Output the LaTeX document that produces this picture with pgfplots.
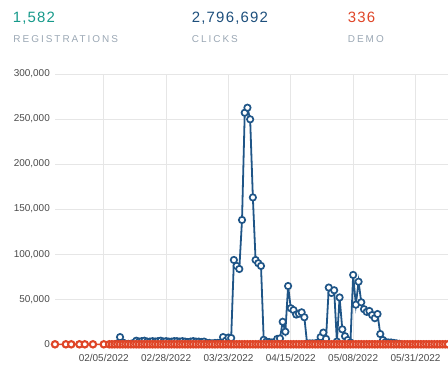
\documentclass[border=0pt]{standalone}
\usepackage{pgfplots}
\pgfplotsset{compat=1.18}
\usepackage{pgfplotstable}
\usepackage{fontspec}
\setmainfont{Liberation Sans}
\definecolor{teal1}{HTML}{16998A}
\definecolor{navy1}{HTML}{1D4F7C}
\definecolor{red1}{HTML}{DF4527}
\definecolor{lab}{HTML}{9AA7B4}
\definecolor{tickc}{HTML}{4A4A4A}
\definecolor{gridc}{HTML}{E6E6E6}
\definecolor{blueline}{HTML}{1F5587}

\pgfplotstableread{
d v
41 1000
42 8000
43 2000
44 500
45 500
46 500
47 1500
48 4000
49 3000
50 3500
51 4000
52 3000
53 3000
54 3500
55 3000
56 3500
57 4000
58 3000
59 3500
60 3000
61 3000
62 3500
63 3500
64 3000
65 3500
66 3000
67 2500
68 3000
69 3500
70 3000
71 3000
72 2500
73 3000
74 1500
75 1500
76 1000
77 1500
78 1500
79 2000
80 8000
81 4000
82 7500
83 7000
84 93600
85 87000
86 83600
87 138000
88 257000
89 262600
90 249700
91 163000
92 93600
93 90000
94 87000
95 5000
96 3000
97 2500
98 2000
99 2500
100 6000
101 6500
102 25000
103 14000
104 64700
105 40000
106 38000
107 33000
108 34000
109 35500
110 30000
111 1000
112 1000
113 1000
114 1000
115 2000
116 8000
117 13000
118 6000
119 63000
120 57000
121 60000
122 3000
123 52000
124 16600
125 9000
126 4800
127 2000
128 77000
129 44000
130 69500
131 46600
132 39000
133 36000
134 37000
135 32500
136 29000
137 33600
138 11400
139 4800
140 2500
141 2000
142 2000
143 1500
144 1000
145 500
}\clicks

\pgfplotstableread{
d v
18 2
22 1
24 3
27 2
29 1
32 2
36 3
38 2
39 3
40 2
41 4
42 3
43 2
44 1
45 2
46 3
47 4
48 2
49 3
50 2
51 1
52 2
53 3
54 4
55 3
56 2
57 2
58 3
59 1
60 2
61 4
62 3
63 2
64 2
65 3
66 2
67 1
68 3
69 2
70 4
71 3
72 2
73 3
74 2
75 1
76 2
77 3
78 2
79 4
80 3
81 2
82 2
83 3
84 5
85 4
86 3
87 6
88 8
89 7
90 6
91 5
92 4
93 3
94 3
95 2
96 1
97 2
98 2
99 3
100 2
101 3
102 4
103 2
104 5
105 4
106 3
107 3
108 2
109 3
110 2
111 1
112 2
113 1
114 2
115 2
116 3
117 3
118 2
119 5
120 4
121 4
122 2
123 4
124 3
125 2
126 2
127 1
128 5
129 3
130 4
131 3
132 3
133 2
134 3
135 2
136 2
137 3
138 2
139 1
140 2
141 1
142 2
143 1
144 1
145 2
146 1
147 2
148 1
149 1
150 2
151 1
152 2
153 1
154 1
155 2
156 1
157 1
158 2
159 1
160 1
161 2
162 1
163 1
}\demo

\begin{document}
\begin{tikzpicture}[x=1bp,y=1bp]
\useasboundingbox (0,0) rectangle (448,372);
\node[anchor=base west, inner sep=0, text=teal1, font=\fontsize{15}{15}\selectfont\addfontfeatures{LetterSpace=8}] at (12.7,349.3) {1,582};
\node[anchor=base west, inner sep=0, text=navy1, font=\fontsize{15}{15}\selectfont\addfontfeatures{LetterSpace=8}] at (191.7,349.3) {2,796,692};
\node[anchor=base west, inner sep=0, text=red1, font=\fontsize{15}{15}\selectfont\addfontfeatures{LetterSpace=8}] at (347.7,349.3) {336};
\node[anchor=base west, inner sep=0, text=lab, font=\fontsize{10}{10}\selectfont\addfontfeatures{LetterSpace=20}] at (13.3,329.5) {REGISTRATIONS};
\node[anchor=base west, inner sep=0, text=lab, font=\fontsize{10}{10}\selectfont\addfontfeatures{LetterSpace=20}] at (191.7,329.5) {CLICKS};
\node[anchor=base west, inner sep=0, text=lab, font=\fontsize{10}{10}\selectfont\addfontfeatures{LetterSpace=20}] at (347.7,329.5) {DEMO};
\begin{axis}[
  at={(55bp,27.7bp)}, anchor=south west,
  scale only axis, width=393bp, height=270.3bp,
  xmin=18, xmax=163, ymin=0, ymax=300000,
  clip=false,
  axis line style={draw=none},
  major tick length=0pt,
  grid=major,
  grid style={gridc, line width=0.9bp},
  xtick={36,59,82,105,128,151},
  xticklabels={02/05/2022,02/28/2022,03/23/2022,04/15/2022,05/08/2022,05/31/2022},
  ytick={0,50000,100000,150000,200000,250000,300000},
  yticklabels={0,{50,000},{100,000},{150,000},{200,000},{250,000},{300,000}},
  scaled y ticks=false,
  ticklabel style={font=\fontsize{10}{12}\selectfont, text=tickc},
  yticklabel style={anchor=east, inner sep=0pt, xshift=-5bp},
  xticklabel style={anchor=north, inner sep=0pt, yshift=-9.5bp},
]
\addplot[blueline, line width=1.8bp, mark=*, mark size=3.2bp,
  mark options={fill=white, draw=blueline, line width=1.7bp}] table[x=d,y=v] {\clicks};
\addplot[red1, line width=1.5bp, mark=*, mark size=3.2bp,
  mark options={fill=white, draw=red1, line width=2.1bp}] table[x=d,y=v] {\demo};
\end{axis}
\end{tikzpicture}
\end{document}
